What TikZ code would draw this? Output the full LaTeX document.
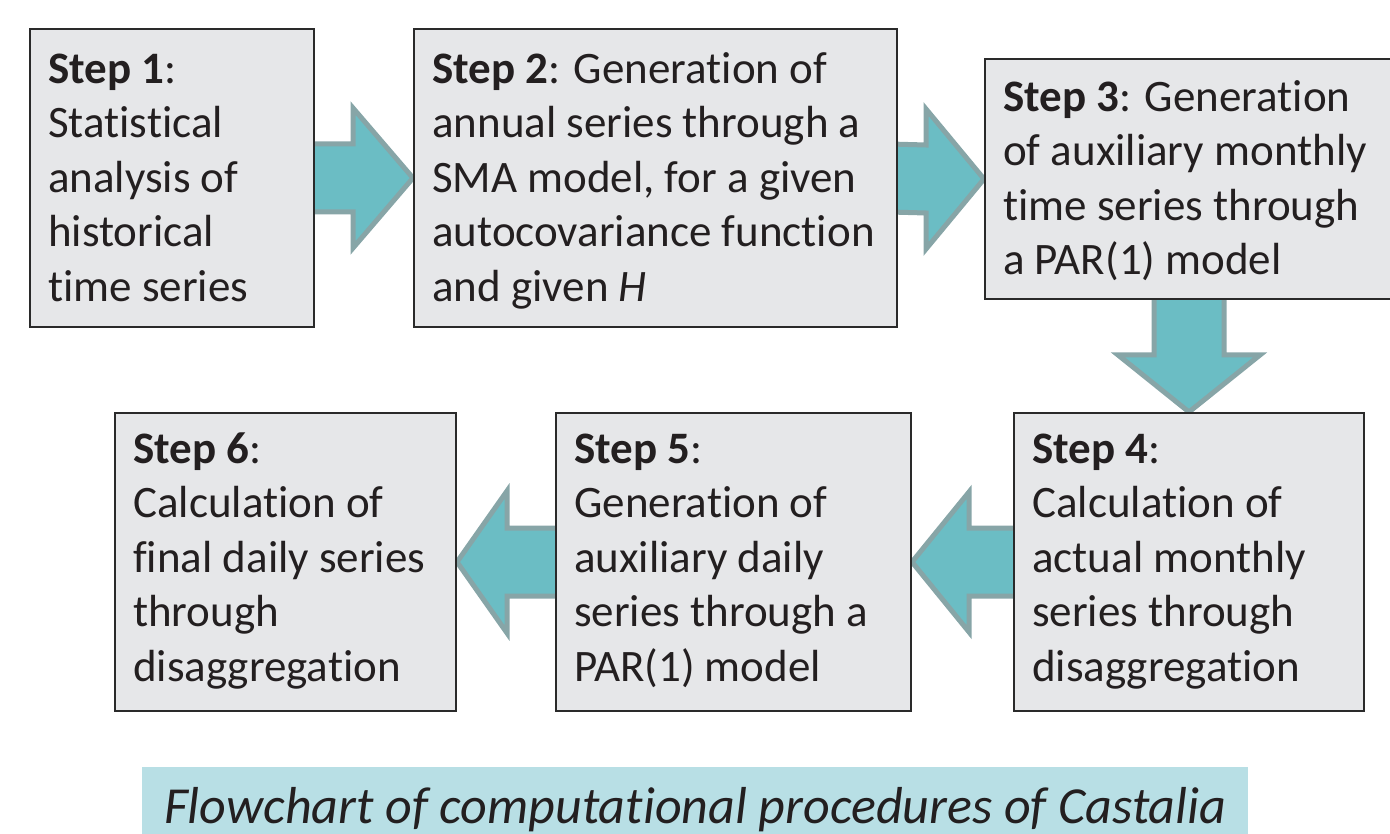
\documentclass[tikz,border=0pt]{standalone}
\usepackage{fontspec}
\setmainfont{Carlito}[Ligatures={NoCommon,NoContextual}]
\usetikzlibrary{calc,backgrounds}
\definecolor{boxfill}{HTML}{E6E7E9}
\definecolor{boxline}{HTML}{2A2A2A}
\definecolor{arrfill}{HTML}{6BBDC4}
\definecolor{arrline}{HTML}{87A5A7}
\definecolor{capfill}{HTML}{B8DFE5}
\definecolor{txt}{HTML}{231F20}
\begin{document}
\begin{tikzpicture}[x=1pt,y=-1pt,
  stepbox/.style={draw=boxline, line width=2pt, fill=boxfill, inner sep=0pt, anchor=north west},
  steptext/.style={anchor=north west, inner sep=0pt, align=left, text=txt,
    font=\fontsize{45}{54.5}\selectfont},
  blockarrow/.style={fill=arrfill, draw=arrline, line width=5pt, line join=miter}]
\useasboundingbox (0,0) rectangle (1390,834);

% boxes
\node[stepbox, minimum width=284pt, minimum height=298pt] (b1) at (29,28) {};
\node[stepbox, minimum width=483pt, minimum height=298pt] (b2) at (413,28) {};
\node[stepbox, minimum width=410pt, minimum height=240pt] (b3) at (984,58) {};
\node[stepbox, minimum width=350pt, minimum height=298pt] (b4) at (1013,412) {};
\node[stepbox, minimum width=355pt, minimum height=298pt] (b5) at (555,412) {};
\node[stepbox, minimum width=341pt, minimum height=298pt] (b6) at (114,412) {};

% texts (first line strut of 33pt above baseline)
\newcommand{\fs}{\rule{0pt}{33pt}}
\node[steptext] (t1) at ($(b1.north west)+(19,22)$)
  {\fs\textbf{Step 1}:\\Statistical\\analysis of\\historical\\time series};
\node[steptext] (t2) at ($(b2.north west)+(19,22)$)
  {\fs\textbf{Step 2}: Generation of\\annual series through a\\SMA model, for a given\\autocovariance function\\and given \textit{H}};
\node[steptext] (t3) at ($(b3.north west)+(19,20)$)
  {\fs\textbf{Step 3}: Generation\\of auxiliary monthly\\time series through\\a PAR(1) model};
\node[steptext] (t4) at ($(b4.north west)+(19,18)$)
  {\fs\textbf{Step 4}:\\Calculation of\\actual monthly\\series through\\disaggregation};
\node[steptext] (t5) at ($(b5.north west)+(19,18)$)
  {\fs\textbf{Step 5}:\\Generation of\\auxiliary daily\\series through a\\PAR(1) model};
\node[steptext] (t6) at ($(b6.north west)+(19,18)$)
  {\fs\textbf{Step 6}:\\Calculation of\\final daily series\\through\\disaggregation};

% block arrows (behind boxes)
\begin{pgfonlayer}{background}
\draw[blockarrow] ($(b1.east)+(-8,-34)$) -- ($(b2.west)+(-60,-34)$) -- ($(b2.west)+(-60,-70)$)
  -- (b2.west) -- ($(b2.west)+(-60,70)$) -- ($(b2.west)+(-60,34)$) -- ($(b1.east)+(-8,34)$) -- cycle;
\draw[blockarrow] ($(b2.east)+(-8,-34)$) -- ($(b3.west)+(-58,-34)$) -- ($(b3.west)+(-58,-70)$)
  -- (b3.west) -- ($(b3.west)+(-58,70)$) -- ($(b3.west)+(-58,34)$) -- ($(b2.east)+(-8,34)$) -- cycle;
\coordinate (a3) at (b3.south -| b4.north);
\draw[blockarrow] ($(a3)+(-35,-8)$) -- ($(b4.north)+(-35,-57)$) -- ($(b4.north)+(-71,-57)$)
  -- (b4.north) -- ($(b4.north)+(71,-57)$) -- ($(b4.north)+(35,-57)$) -- ($(a3)+(35,-8)$) -- cycle;
\draw[blockarrow] ($(b4.west)+(8,-34)$) -- ($(b5.east)+(57,-34)$) -- ($(b5.east)+(57,-70)$)
  -- (b5.east) -- ($(b5.east)+(57,70)$) -- ($(b5.east)+(57,34)$) -- ($(b4.west)+(8,34)$) -- cycle;
\draw[blockarrow] ($(b5.west)+(8,-34)$) -- ($(b6.east)+(50,-34)$) -- ($(b6.east)+(50,-71)$)
  -- (b6.east) -- ($(b6.east)+(50,71)$) -- ($(b6.east)+(50,34)$) -- ($(b5.west)+(8,34)$) -- cycle;
\end{pgfonlayer}

% caption
\node[fill=capfill, anchor=north west, minimum width=1106pt, minimum height=67pt, inner sep=0pt,
  text height=50pt, text depth=5pt,
  text=txt, font=\fontsize{52}{60}\selectfont\itshape] (cap) at (142,767)
  {Flowchart of computational procedures of Castalia};
\end{tikzpicture}
\end{document}
